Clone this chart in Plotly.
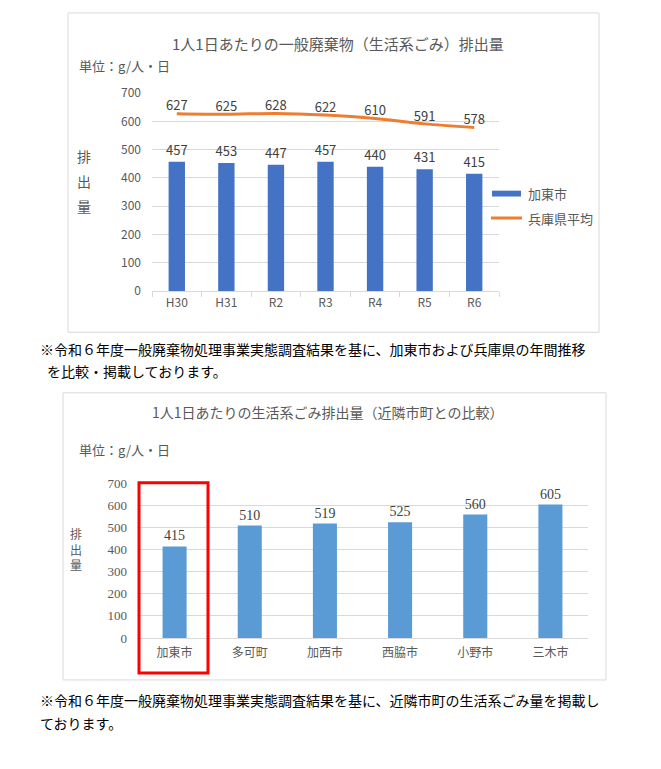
import plotly.graph_objects as go

W, H = 661, 769

# ---- data ----
years = ["H30", "H31", "R2", "R3", "R4", "R5", "R6"]
kato_values = [457, 453, 447, 457, 440, 431, 415]
hyogo_values = [627, 625, 628, 622, 610, 591, 578]

towns = ["加東市", "多可町", "加西市", "西脇市", "小野市", "三木市"]
town_values = [415, 510, 519, 525, 560, 605]

y_ticks = [0, 100, 200, 300, 400, 500, 600, 700]

JP = "Noto Sans CJK JP"
SERIF = "Liberation Serif, Noto Sans CJK JP"
GRAY = "#595959"
DARK = "#404040"
GRID = "#d9d9d9"


def px(x):
    return x / W


def py(y):
    return 1 - y / H


fig = go.Figure()

# Chart 1
fig.add_trace(go.Bar(
    x=years, y=kato_values, name="加東市", marker_color="#4472C4",
    marker_line_width=0, width=0.33,
    text=kato_values, textposition="outside", constraintext="none",
    textfont=dict(family=JP, size=13, color=DARK),
    cliponaxis=False, xaxis="x", yaxis="y"))
fig.add_trace(go.Scatter(
    x=years, y=hyogo_values, name="兵庫県平均", mode="lines+text",
    line=dict(color="#ED7D31", width=3, shape="spline", smoothing=0.8),
    text=hyogo_values, textposition="top center",
    textfont=dict(family=JP, size=13, color=DARK),
    cliponaxis=False, xaxis="x", yaxis="y"))

# Chart 2
fig.add_trace(go.Bar(
    x=towns, y=town_values, name="排出量", marker_color="#5B9BD5",
    marker_line_width=0, width=0.32,
    text=town_values, textposition="outside", constraintext="none",
    textfont=dict(family=SERIF, size=14, color=DARK),
    cliponaxis=False, xaxis="x2", yaxis="y2"))

fig.update_layout(
    width=W, height=H,
    margin=dict(l=0, r=0, t=0, b=0),
    paper_bgcolor="white", plot_bgcolor="white",
    showlegend=False,
    font=dict(family=JP, color=GRAY),
    xaxis=dict(domain=[px(152), px(499)], anchor="y",
               showline=True, linecolor=GRID, linewidth=1,
               ticks="outside", tickson="boundaries", ticklen=5, tickcolor=GRID,
               tickfont=dict(family=JP, size=12, color=GRAY),
               showgrid=False, fixedrange=True),
    yaxis=dict(domain=[py(288), py(85)], anchor="x", range=[0, 700],
               tickvals=y_ticks, showgrid=True, gridcolor=GRID,
               zeroline=False, showline=False, ticks="",
               ticklabelstandoff=10,
               tickfont=dict(family=JP, size=12, color=GRAY)),
    xaxis2=dict(domain=[px(137), px(588)], anchor="y2",
                showline=True, linecolor=GRID, linewidth=1,
                ticks="", showgrid=False, ticklabelstandoff=4,
                tickfont=dict(family=JP, size=12, color=GRAY)),
    yaxis2=dict(domain=[py(643), py(485)], anchor="x2", range=[0, 700],
                tickvals=y_ticks, showgrid=True, gridcolor=GRID,
                zeroline=False, showline=False, ticks="",
                ticklabelstandoff=9,
                tickfont=dict(family=SERIF, size=13, color=GRAY)),
)

shapes = [
    # chart borders
    dict(type="rect", xref="paper", yref="paper", x0=px(68), x1=px(599), y0=py(330), y1=py(3),
         line=dict(color=GRID, width=1), layer="below"),
    dict(type="rect", xref="paper", yref="paper", x0=px(63), x1=px(606), y0=py(686), y1=py(392),
         line=dict(color=GRID, width=1), layer="below"),
    # red highlight box
    dict(type="rect", xref="paper", yref="paper", x0=px(139), x1=px(208), y0=py(679), y1=py(484),
         line=dict(color="#FF0000", width=3)),
    # legend swatches (chart 1)
    dict(type="rect", xref="paper", yref="paper", x0=px(492), x1=px(521), y0=py(191), y1=py(185),
         line=dict(width=0), fillcolor="#4472C4"),
    dict(type="line", xref="paper", yref="paper", x0=px(491), x1=px(522), y0=py(213), y1=py(213),
         line=dict(color="#ED7D31", width=3)),
]
fig.update_layout(shapes=shapes)


def ann(text, x, y, size=14, color=GRAY, xanchor="center", family=JP):
    return dict(text=text, x=px(x), y=py(y), xref="paper", yref="paper",
                xanchor=xanchor, yanchor="middle", showarrow=False,
                font=dict(family=family, size=size, color=color))


annotations = [
    ann("1人1日あたりの一般廃棄物（生活系ごみ）排出量", 338, 34, size=15),
    ann("単位：g/人・日", 77, 57, size=13, xanchor="left"),
    ann("排", 84, 149, size=14),
    ann("出", 84, 175, size=14),
    ann("量", 84, 201, size=14),
    ann("加東市", 526, 188, size=13, xanchor="left"),
    ann("兵庫県平均", 526, 213, size=13, xanchor="left"),
    ann("※令和６年度一般廃棄物処理事業実態調査結果を基に、加東市および兵庫県の年間推移",
        38, 347, size=14, color="#000000", xanchor="left"),
    ann("を比較・掲載しております。", 45, 370, size=14, color="#000000", xanchor="left"),
    ann("1人1日あたりの生活系ごみ排出量（近隣市町との比較）", 327, 412, size=14),
    ann("単位：g/人・日", 77, 450, size=13, xanchor="left"),
    ann("排<br>出<br>量", 76, 552, size=12),
    ann("※令和６年度一般廃棄物処理事業実態調査結果を基に、近隣市町の生活系ごみ量を掲載し",
        38, 707, size=14, color="#000000", xanchor="left"),
    ann("ております。", 38, 730, size=14, color="#000000", xanchor="left"),
]
fig.update_layout(annotations=annotations)

fig.write_html(
    "out.html",
    config={"displayModeBar": False},
    post_script="document.body.style.margin='0';document.body.style.overflow='hidden';",
)
